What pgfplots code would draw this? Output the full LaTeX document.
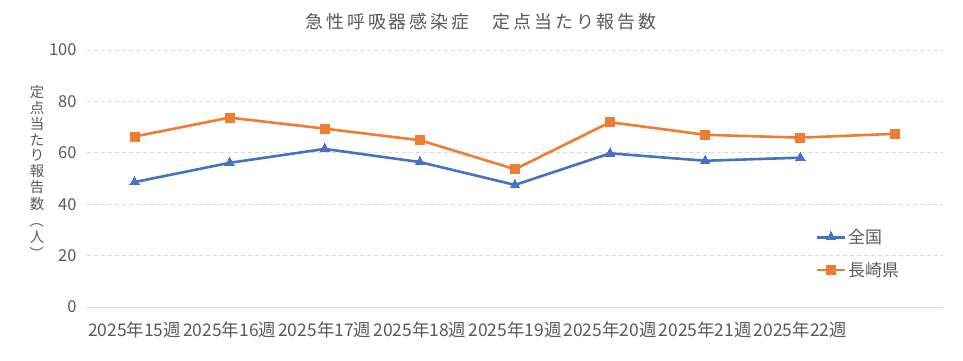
\documentclass[border=0pt]{standalone}
\usepackage{fontspec}
\setmainfont{Noto Sans CJK JP}
\newfontfamily\titlefont[LetterSpace=16]{Noto Sans CJK JP}
\usepackage{pgfplots}
\pgfplotsset{compat=1.18}
\definecolor{cblue}{HTML}{4472C4}
\definecolor{corange}{HTML}{ED7D31}
\definecolor{ctext}{HTML}{595959}
\definecolor{cgrid}{HTML}{D9D9D9}
\begin{document}
\begin{tikzpicture}
\path[use as bounding box] (-87bp,-54bp) rectangle (876bp,307bp);
\begin{axis}[
  scale only axis, width=856bp, height=257bp,
  at={(0,0)}, anchor=south west,
  xmin=-0.5, xmax=8.5, ymin=0, ymax=100,
  ytick={0,20,40,60,80,100},
  xtick={0,...,7},
  xticklabels={2025年15週,2025年16週,2025年17週,2025年18週,2025年19週,2025年20週,2025年21週,2025年22週},
  axis x line*=bottom, axis y line*=left,
  x axis line style={draw=cgrid, line width=1pt, -},
  y axis line style={draw=none},
  major tick length=0pt,
  ymajorgrids, grid style={draw=cgrid, dash pattern=on 4bp off 3bp, line width=0.8pt},
  tick label style={font=\fontsize{16.5}{18}\selectfont, text=ctext},
  xticklabel style={font=\fontsize{17.5}{19}\selectfont, yshift=-11bp, inner xsep=0pt},
  /pgf/number format/assume math mode=true,
  yticklabel style={xshift=-7bp},
  legend style={at={(0.851,0.208)}, anchor=west, draw=none, fill=none,
    font=\fontsize{17}{19}\selectfont, text=ctext, row sep=13bp,
    inner xsep=0pt, /tikz/every even column/.append style={column sep=2bp}},
  legend cell align=left,
  legend image code/.code={
    \draw[#1, mark repeat=2, mark phase=2] plot coordinates {(0bp,0bp) (14bp,0bp) (28bp,0bp)};
  },
]
\addplot[color=cblue, line width=2.6bp, mark=triangle*, mark size=5.5bp, mark options={solid, line width=0pt}]
coordinates {(0,48.6) (1,56.1) (2,61.5) (3,56.4) (4,47.5) (5,59.8) (6,56.9) (7,58.1)};
\addlegendentry{全国}
\addplot[color=corange, line width=2.6bp, mark=square*, mark size=4.5bp, mark options={solid, line width=0pt}]
coordinates {(0,66.3) (1,73.7) (2,69.4) (3,64.9) (4,53.6) (5,71.9) (6,67.0) (7,65.9) (8,67.4)};
\addlegendentry{長崎県}
\end{axis}
\node[text=ctext, font=\titlefont\fontsize{18}{20}\selectfont] at (394bp,285bp) {急性呼吸器感染症　定点当たり報告数};
\node[text=ctext, font=\fontsize{14.5}{14.5}\selectfont, align=center, inner sep=0pt] at (-50bp,134bp)
  {\shortstack{定\\点\\当\\た\\り\\報\\告\\数\\\rotatebox[origin=c]{-90}{（}\\人\\\rotatebox[origin=c]{-90}{）}}};
\end{tikzpicture}
\end{document}
